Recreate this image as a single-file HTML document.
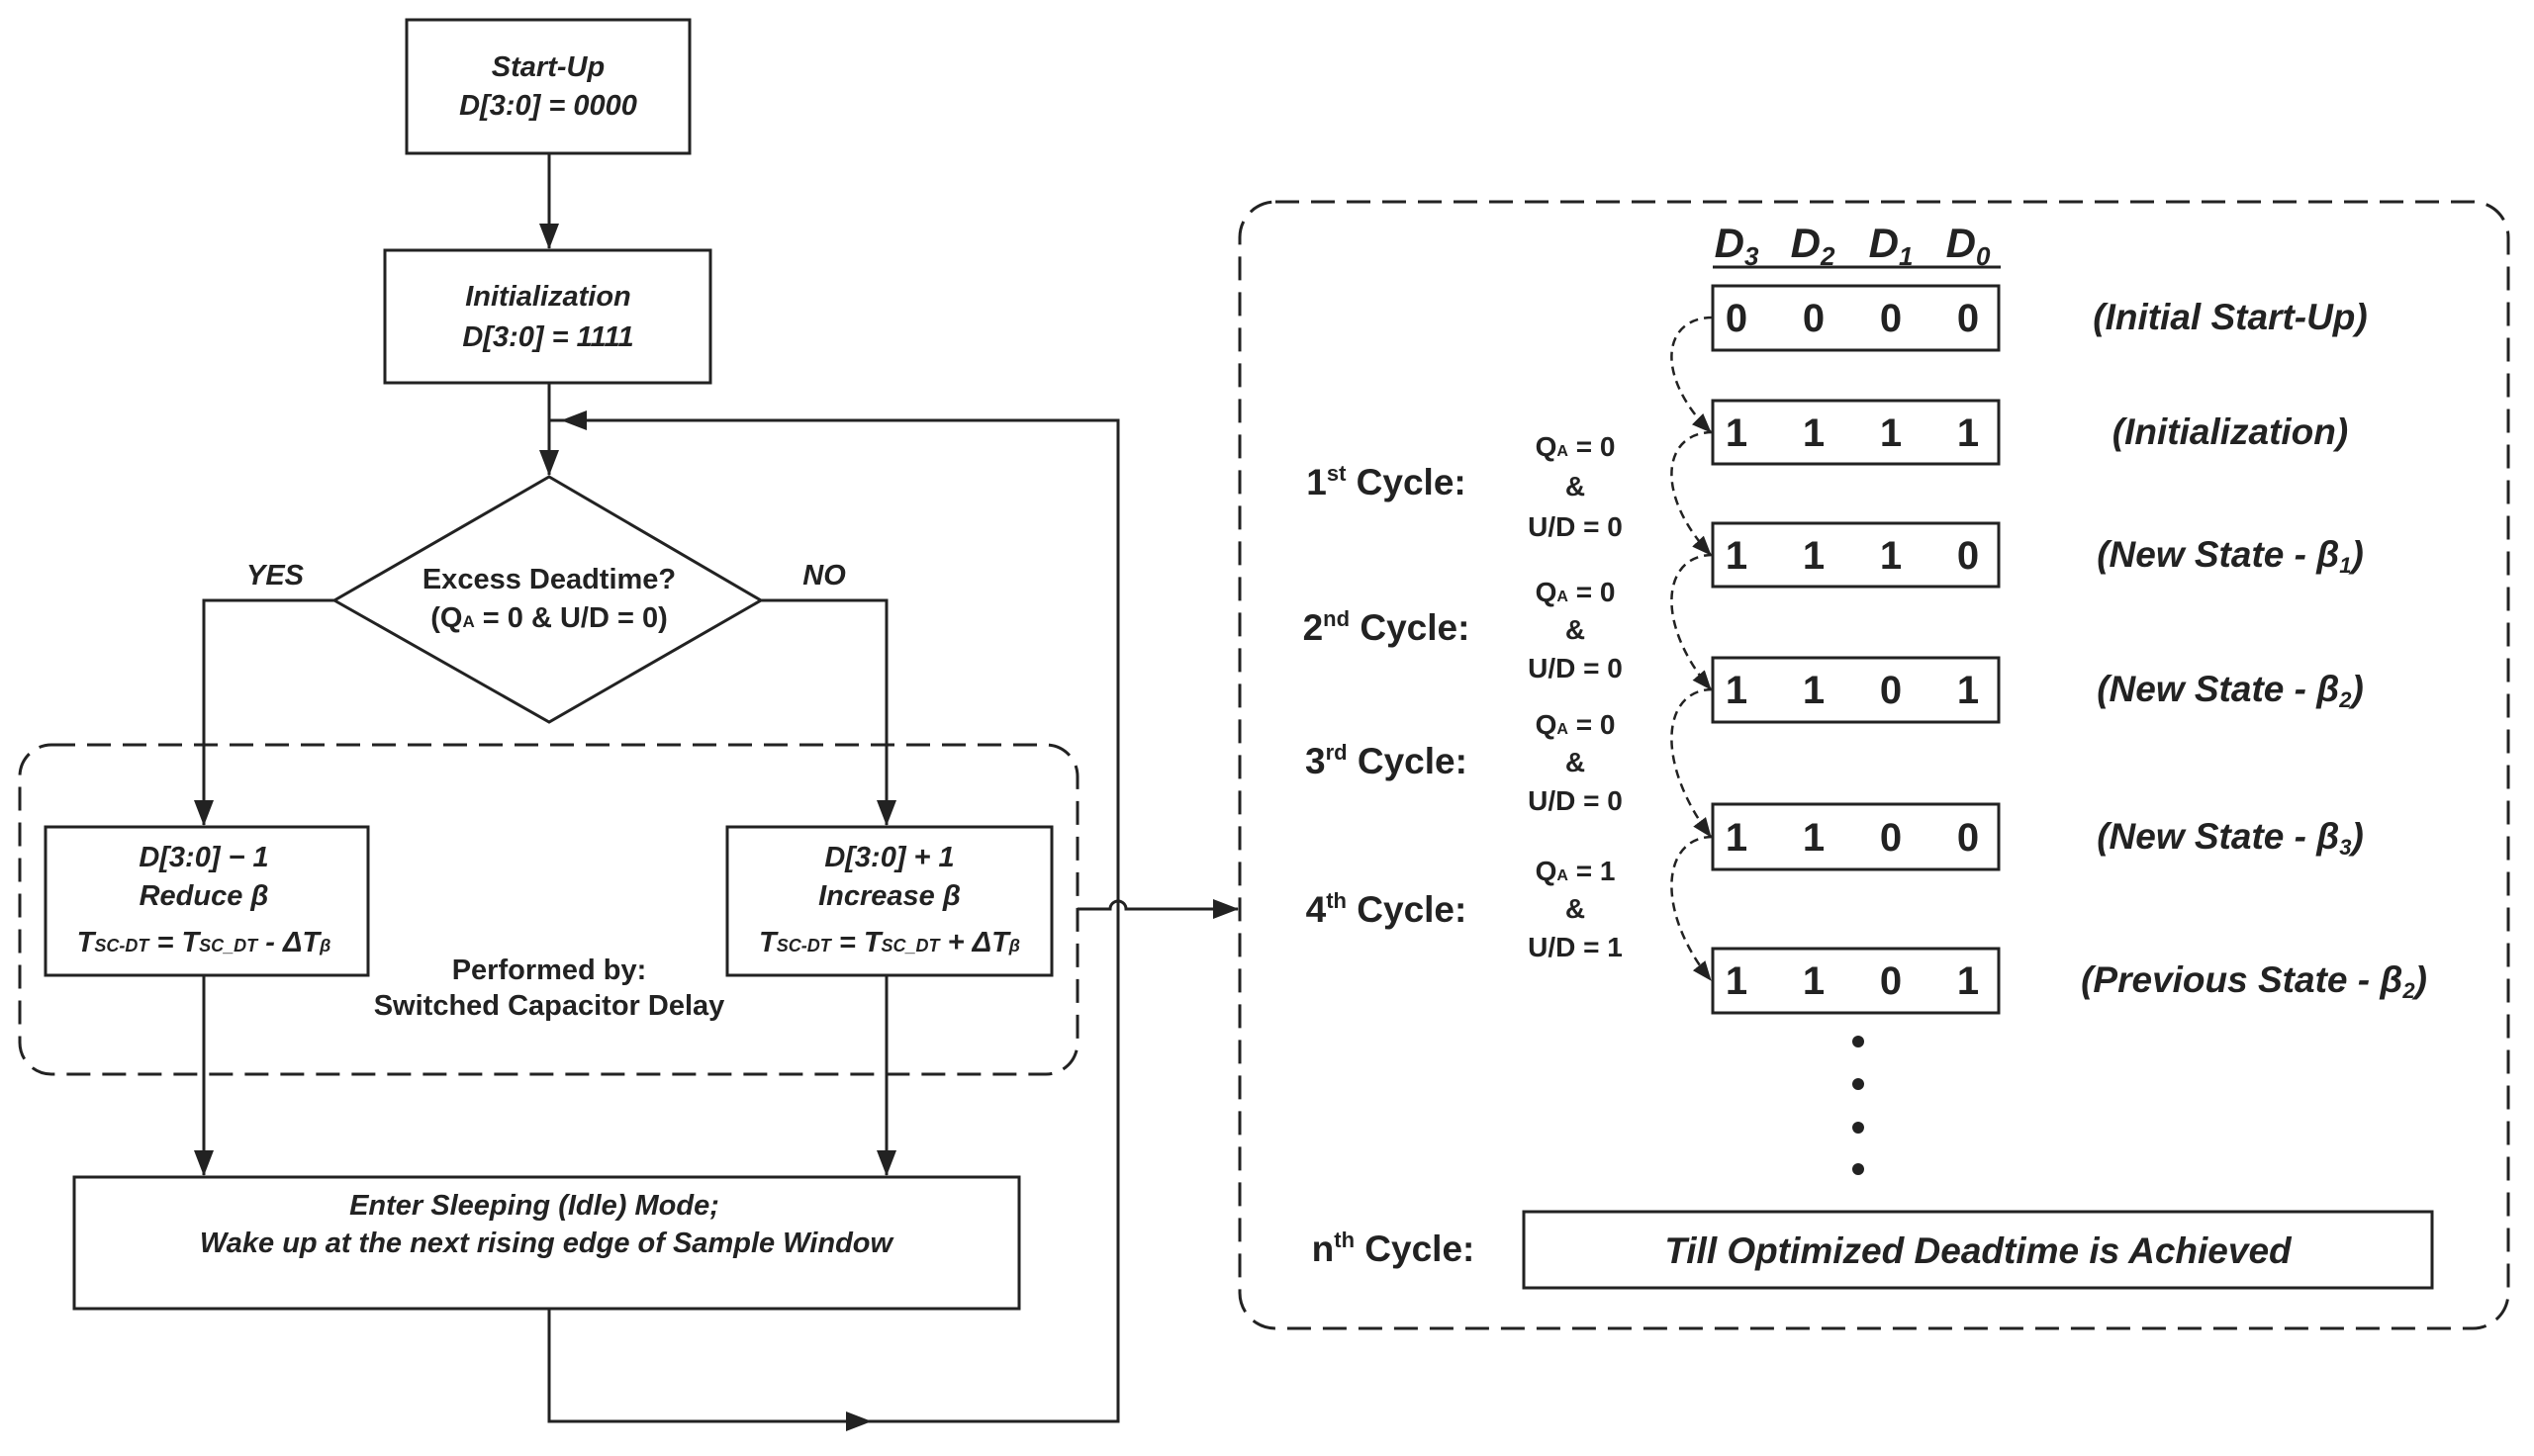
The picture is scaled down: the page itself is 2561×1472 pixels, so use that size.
<!DOCTYPE html>
<html><head><meta charset="utf-8"><style>
html,body{margin:0;padding:0;background:#fff}
svg{display:block}
text{font-family:"Liberation Sans",sans-serif;font-weight:bold;fill:#222}
.i{font-style:italic}
</style></head><body>
<svg width="2561" height="1472" viewBox="0 0 2561 1472" xmlns="http://www.w3.org/2000/svg">
<defs>
<marker id="b" markerWidth="26" markerHeight="20" refX="25" refY="10" orient="auto" markerUnits="userSpaceOnUse">
<path d="M0,0 L26,10 L0,20z" fill="#222"/></marker>
<marker id="c" markerWidth="20" markerHeight="16" refX="19" refY="8" orient="auto" markerUnits="userSpaceOnUse">
<path d="M0,0 L20,8 L0,16z" fill="#222"/></marker>
</defs>
<g fill="none" stroke="#222" stroke-width="3">
<rect x="411" y="20" width="286" height="135"/>
<rect x="389" y="253" width="329" height="134"/>
<polygon points="555,482 769,607 555,730 338,607"/>
<rect x="46" y="836" width="326" height="150"/>
<rect x="735" y="836" width="328" height="150"/>
<rect x="75" y="1190" width="955" height="133"/>
<rect x="20" y="753" width="1069" height="333" rx="32" stroke-dasharray="24,12"/>
<rect x="1253" y="204" width="1282" height="1139" rx="36" stroke-dasharray="24,12"/>
<line x1="555" y1="155" x2="555" y2="251" marker-end="url(#b)"/>
<line x1="555" y1="387" x2="555" y2="480" marker-end="url(#b)"/>
<polyline points="338,607 206,607 206,834" marker-end="url(#b)"/>
<polyline points="769,607 896,607 896,834" marker-end="url(#b)"/>
<line x1="206" y1="986" x2="206" y2="1188" marker-end="url(#b)"/>
<line x1="896" y1="986" x2="896" y2="1188" marker-end="url(#b)"/>
<polyline points="555,1323 555,1437 1130,1437 1130,425 555,425"/>
<line x1="1130" y1="425" x2="568" y2="425" marker-end="url(#b)"/>
<line x1="555" y1="1437" x2="880" y2="1437" marker-end="url(#b)"/>
<path d="M1089,919 H1122 A8,8 0 0 1 1138,919 H1251" marker-end="url(#b)"/>
<line x1="1731" y1="270" x2="2022" y2="270"/>
<rect x="1731" y="289" width="289" height="65"/>
<rect x="1731" y="405" width="289" height="64"/>
<rect x="1731" y="529" width="289" height="64"/>
<rect x="1731" y="665" width="289" height="65"/>
<rect x="1731" y="813" width="289" height="66"/>
<rect x="1731" y="959" width="289" height="65"/>
<rect x="1540" y="1225" width="918" height="77"/>
<g stroke-width="2.5" stroke-dasharray="9,6">
<path d="M1731,321 C1680,321 1672,380 1729,437" marker-end="url(#c)"/>
<path d="M1731,437 C1680,437 1672,500 1729,561" marker-end="url(#c)"/>
<path d="M1731,561 C1680,561 1672,630 1729,697" marker-end="url(#c)"/>
<path d="M1731,697 C1680,697 1672,770 1729,846" marker-end="url(#c)"/>
<path d="M1731,846 C1680,846 1672,920 1729,991" marker-end="url(#c)"/>
</g>
</g>
<g fill="#222"><circle cx="1878" cy="1053" r="6"/><circle cx="1878" cy="1096" r="6"/><circle cx="1878" cy="1140" r="6"/><circle cx="1878" cy="1182" r="6"/></g>
<g font-size="29" text-anchor="middle" class="i">
<text x="554" y="77">Start-Up</text>
<text x="554" y="116">D[3:0] = 0000</text>
<text x="554" y="309">Initialization</text>
<text x="554" y="350">D[3:0] = 1111</text>
<text x="278" y="591">YES</text>
<text x="833" y="591">NO</text>
<text x="206" y="876">D[3:0]  − 1</text>
<text x="206" y="915">Reduce β</text>
<text x="206" y="962">T<tspan font-size="18">SC-DT</tspan> = T<tspan font-size="18">SC_DT</tspan> - ΔT<tspan font-size="18">β</tspan></text>
<text x="899" y="876">D[3:0] + 1</text>
<text x="899" y="915">Increase β</text>
<text x="899" y="962">T<tspan font-size="18">SC-DT</tspan> = T<tspan font-size="18">SC_DT</tspan> + ΔT<tspan font-size="18">β</tspan></text>
<text x="540" y="1228">Enter Sleeping (Idle) Mode;</text>
<text x="552" y="1266">Wake up at the next rising edge of Sample Window</text>
</g>
<g font-size="29" text-anchor="middle">
<text x="555" y="595">Excess Deadtime?</text>
<text x="555" y="634">(Q<tspan font-size="17">A</tspan> = 0 &amp; U/D = 0)</text>
<text x="555" y="990">Performed by:</text>
<text x="555" y="1026">Switched Capacitor Delay</text>
</g>
<g font-size="42" class="i" text-anchor="middle">
<text x="1755" y="260">D<tspan font-size="26" dy="8">3</tspan></text>
<text x="1832" y="260">D<tspan font-size="26" dy="8">2</tspan></text>
<text x="1911" y="260">D<tspan font-size="26" dy="8">1</tspan></text>
<text x="1989" y="260">D<tspan font-size="26" dy="8">0</tspan></text>
</g>
<g font-size="40" text-anchor="middle" font-weight="normal">
<text x="1755" y="335">0</text><text x="1833" y="335">0</text><text x="1911" y="335">0</text><text x="1989" y="335">0</text>
<text x="1755" y="451">1</text><text x="1833" y="451">1</text><text x="1911" y="451">1</text><text x="1989" y="451">1</text>
<text x="1755" y="575">1</text><text x="1833" y="575">1</text><text x="1911" y="575">1</text><text x="1989" y="575">0</text>
<text x="1755" y="711">1</text><text x="1833" y="711">1</text><text x="1911" y="711">0</text><text x="1989" y="711">1</text>
<text x="1755" y="860">1</text><text x="1833" y="860">1</text><text x="1911" y="860">0</text><text x="1989" y="860">0</text>
<text x="1755" y="1005">1</text><text x="1833" y="1005">1</text><text x="1911" y="1005">0</text><text x="1989" y="1005">1</text>
</g>
<g font-size="37" class="i" text-anchor="middle">
<text x="2254" y="333">(Initial Start-Up)</text>
<text x="2254" y="449">(Initialization)</text>
<text x="2254" y="573">(New State - β<tspan font-size="22" dy="6">1</tspan><tspan dy="-6">)</tspan></text>
<text x="2254" y="709">(New State - β<tspan font-size="22" dy="6">2</tspan><tspan dy="-6">)</tspan></text>
<text x="2254" y="858">(New State - β<tspan font-size="22" dy="6">3</tspan><tspan dy="-6">)</tspan></text>
<text x="2278" y="1003">(Previous State - β<tspan font-size="22" dy="6">2</tspan><tspan dy="-6">)</tspan></text>
<text x="1999" y="1277">Till Optimized Deadtime is Achieved</text>
</g>
<g font-size="37" text-anchor="middle">
<text x="1401" y="500">1<tspan font-size="22" dy="-14">st</tspan><tspan dy="14"> Cycle:</tspan></text>
<text x="1401" y="647">2<tspan font-size="22" dy="-14">nd</tspan><tspan dy="14"> Cycle:</tspan></text>
<text x="1401" y="782">3<tspan font-size="22" dy="-14">rd</tspan><tspan dy="14"> Cycle:</tspan></text>
<text x="1401" y="932">4<tspan font-size="22" dy="-14">th</tspan><tspan dy="14"> Cycle:</tspan></text>
<text x="1408" y="1275">n<tspan font-size="22" dy="-14">th</tspan><tspan dy="14"> Cycle:</tspan></text>
</g>
<g font-size="28" text-anchor="middle">
<text x="1592" y="461">Q<tspan font-size="16">A</tspan> = 0</text><text x="1592" y="501">&amp;</text><text x="1592" y="542">U/D = 0</text>
<text x="1592" y="608">Q<tspan font-size="16">A</tspan> = 0</text><text x="1592" y="646">&amp;</text><text x="1592" y="685">U/D = 0</text>
<text x="1592" y="742">Q<tspan font-size="16">A</tspan> = 0</text><text x="1592" y="780">&amp;</text><text x="1592" y="819">U/D = 0</text>
<text x="1592" y="890">Q<tspan font-size="16">A</tspan> = 1</text><text x="1592" y="928">&amp;</text><text x="1592" y="967">U/D = 1</text>
</g>
</svg>
</body></html>
